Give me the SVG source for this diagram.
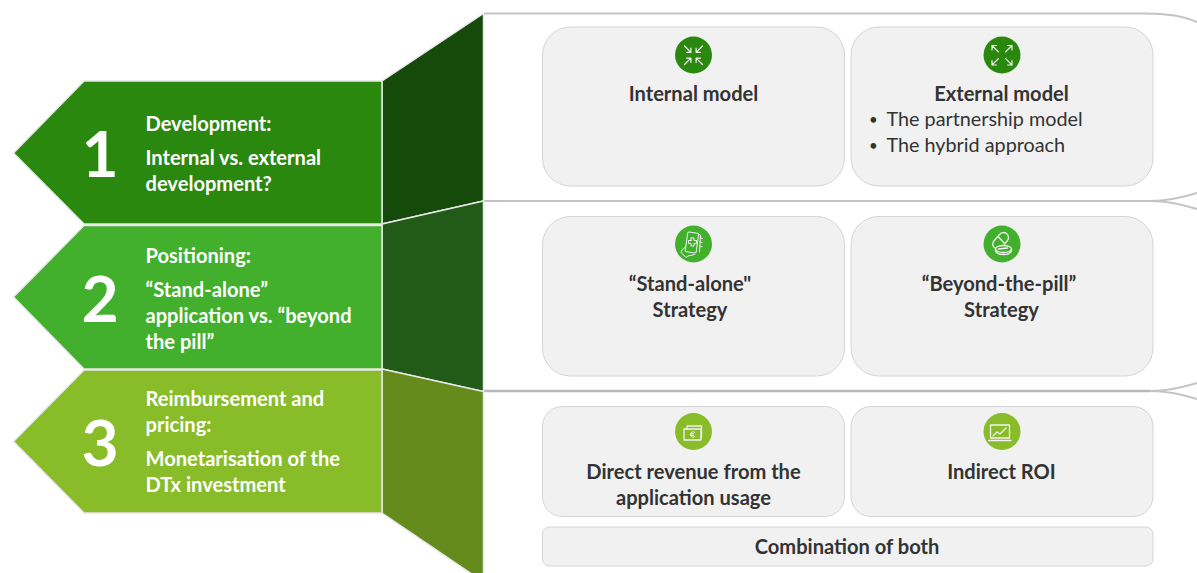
<svg xmlns="http://www.w3.org/2000/svg" width="1197" height="573" viewBox="0 0 1197 573">
<style>
text{font-family:Lato,"Open Sans","Liberation Sans",sans-serif}
.w{fill:#fff;font-weight:700;font-size:20.100px;transform:translateY(.7px)}
.n{fill:#fff;font-weight:700;font-size:64px;text-anchor:middle}
.d{fill:#333;font-weight:700;font-size:20.100px;text-anchor:middle;transform:translateY(.7px)}
.r{fill:#333;font-size:19.800px}
.b{fill:#333;font-size:15px}
.card{fill:#f1f1f1;stroke:#d4d4d4;stroke-width:1}
.arrow{stroke:#e8e8e8;stroke-width:1.500}
.side{stroke:#e8e8e8;stroke-width:1.500}
.rail{fill:none;stroke:#c4c4c4;stroke-width:2}
.ic{fill:none;stroke:#f1f1f1;stroke-width:1.300;stroke-linecap:round;stroke-linejoin:round}
</style>
<defs>
<g id="ar"><path class="ic" style="stroke-width:1.500" d="M0 0L8 8M8 2.500V8H2.500"/></g>
<g id="ao"><path class="ic" style="stroke-width:1.500" d="M0 0L8 8M0 5.500V0H5.500"/></g>
</defs>
<g id="connectors">
<path class="rail" d="M484 13.500H1145Q1178 13.500 1197 22"/>
<path class="rail" d="M484 201H1150Q1172 201 1197 193M1150 201Q1172 201 1197 209"/>
<path class="rail" style="stroke:#b8b8b8;stroke-width:2.500" d="M484 391H1150"/>
<path class="rail" d="M1150 391Q1172 391 1197 383M1150 391Q1172 391 1197 399"/>
</g>
<g id="side-panels">
<path class="side" fill="#154a0a" d="M382 81L483.500 13.500V201L382 224Z"/>
<path class="side" fill="#225a18" d="M382 224L483.500 201V391.500L382 369Z"/>
<path class="side" fill="#658b1d" d="M382 369L483.500 391.500V582L382 513Z"/>
</g>
<g id="step-1">
<path class="arrow" fill="#2a880e" d="M13.500 153L84 81H382V224H84Z"/>
<text class="n" x="100" y="177">1</text>
<text class="w" x="145.500" y="130">Development:</text>
<text class="w" x="145.500" y="164">Internal vs. external</text>
<text class="w" x="145.500" y="190">development?</text>
</g>
<g id="step-2">
<path class="arrow" fill="#42b02c" d="M13.500 297L84 225.500H382V369H84Z"/>
<text class="n" x="100" y="322">2</text>
<text class="w" x="145.500" y="262">Positioning:</text>
<text class="w" x="145.500" y="296">“Stand-alone”</text>
<text class="w" x="145.500" y="322">application vs. “beyond</text>
<text class="w" x="145.500" y="348">the pill”</text>
</g>
<g id="step-3">
<path class="arrow" fill="#88bc28" d="M13.500 441.500L84 370H382V513H84Z"/>
<text class="n" x="100" y="466">3</text>
<text class="w" x="145.500" y="405">Reimbursement and</text>
<text class="w" x="145.500" y="431">pricing:</text>
<text class="w" x="145.500" y="465">Monetarisation of the</text>
<text class="w" x="145.500" y="491">DTx investment</text>
</g>
<g id="card-internal">
<rect class="card" x="542.500" y="27" width="302" height="159" rx="28"/>
<circle cx="693.500" cy="55" r="18.500" fill="#2a880e"/>
<use href="#ar" transform="translate(684.500 46) scale(.8)"/>
<use href="#ar" transform="translate(702.500 46) scale(-.8 .8)"/>
<use href="#ar" transform="translate(684.500 64.500) scale(.8 -.8)"/>
<use href="#ar" transform="translate(702.500 64.500) scale(-.8 -.8)"/>
<text class="d" x="693.500" y="100">Internal model</text>
</g>
<g id="card-external">
<rect class="card" x="851" y="27" width="302" height="159" rx="28"/>
<circle cx="1002" cy="55" r="18.500" fill="#2a880e"/>
<use href="#ao" transform="translate(992 45.500) scale(.8)"/>
<use href="#ao" transform="translate(1012 45.500) scale(-.8 .8)"/>
<use href="#ao" transform="translate(992 65) scale(.8 -.8)"/>
<use href="#ao" transform="translate(1012 65) scale(-.8 -.8)"/>
<text class="d" x="1001.500" y="100">External model</text>
<text class="b" x="869" y="125">•</text>
<text class="r" x="886.500" y="126">The partnership model</text>
<text class="b" x="869" y="151">•</text>
<text class="r" x="886.500" y="152">The hybrid approach</text>
</g>
<g id="card-standalone">
<rect class="card" x="542.500" y="216.500" width="302" height="159.500" rx="28"/>
<circle cx="693.500" cy="244" r="18.500" fill="#42b02c"/>
<g class="ic" style="stroke-width:1"><rect x="686.500" y="232.500" width="11" height="20" rx="1.500" transform="rotate(8 692 242)"/><path d="M691 238h3v2.500h2.500v3h-2.500v2.500h-3v-2.500h-2.500v-3h2.500z"/><path d="M698.500 234l2 1-1 17M700.500 238l2 .5M700 242l2 .5M700 246l2 .5"/><path d="M682 250l-1 2.500 5 5 2-1.500 6.500-1.500M682 250l4-3.500"/></g>
<text class="d" x="690" y="290">“Stand-alone"</text>
<text class="d" x="690" y="316">Strategy</text>
</g>
<g id="card-beyond">
<rect class="card" x="851" y="216.500" width="302" height="159.500" rx="28"/>
<circle cx="1002" cy="244" r="18.500" fill="#42b02c"/>
<g class="ic"><path d="M995 248a4.500 4.500 0 0 1 -1.500-6.500l6-7a5 5 0 0 1 8 6l-3 3.500"/><path d="M998.500 237l6 6.500"/><ellipse cx="1003.500" cy="249" rx="8" ry="3.500"/><path d="M995.500 249v2c1 2.500 4 3.500 8 3.500s7-1 8-3.500v-2M998.500 249l9-1"/></g>
<text class="d" x="999" y="290">“Beyond-the-pill”</text>
<text class="d" x="1001.500" y="316">Strategy</text>
</g>
<g id="card-direct">
<rect class="card" x="542.500" y="406.500" width="302" height="110" rx="20"/>
<circle cx="693.500" cy="431.500" r="18.500" fill="#88bc28"/>
<g class="ic"><rect x="684" y="429" width="17" height="11" fill="#88bc28"/><path d="M687 429v-3h14.500v11h-1"/><path d="M695 432.500a2.700 2.700 0 1 0 0 4M690.500 433.800h3M690.500 435.300h3" style="stroke-width:1"/></g>
<text class="d" x="693.500" y="478">Direct revenue from the</text>
<text class="d" x="693.500" y="504">application usage</text>
</g>
<g id="card-indirect">
<rect class="card" x="851" y="406.500" width="302" height="110" rx="20"/>
<circle cx="1002" cy="431.500" r="18.500" fill="#88bc28"/>
<g class="ic"><rect x="990.500" y="425" width="19" height="13"/><path d="M988.500 440.500h22.500"/><path d="M993 436l4-4 3 2 6-6"/></g>
<text class="d" x="1001.500" y="478">Indirect ROI</text>
</g>
<g id="card-combination">
<rect class="card" x="542.500" y="527" width="610.500" height="39" rx="7"/>
<text class="d" x="847" y="553.500">Combination of both</text>
</g>
</svg>
